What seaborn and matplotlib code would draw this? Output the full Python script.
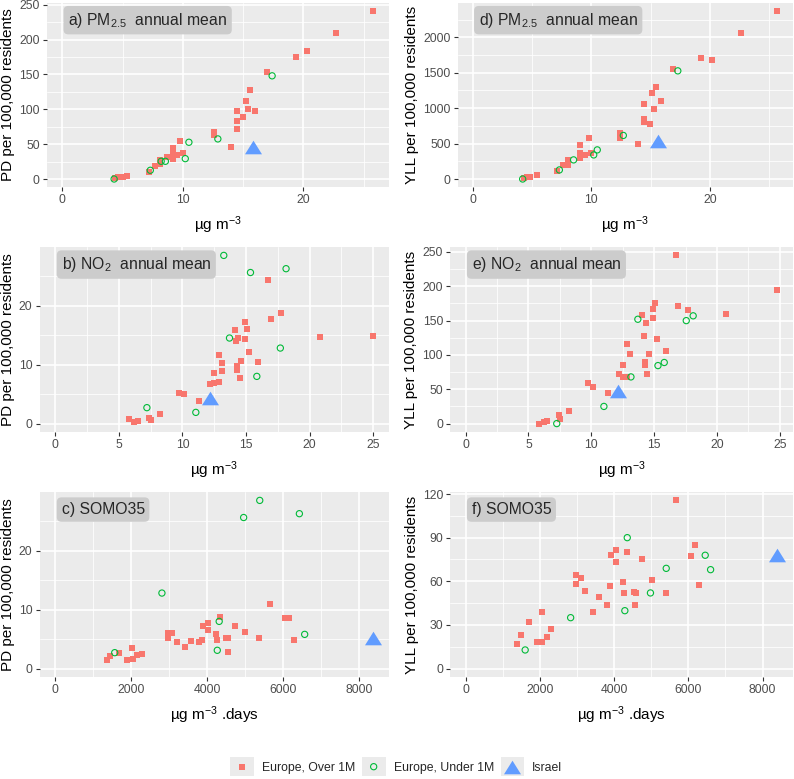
import matplotlib
matplotlib.use("Agg")
import matplotlib.pyplot as plt
import seaborn as sns
from matplotlib.ticker import MultipleLocator
from matplotlib.markers import MarkerStyle
from matplotlib.transforms import Affine2D
from matplotlib.patches import Rectangle
from matplotlib.collections import PathCollection
from matplotlib.legend_handler import HandlerPathCollection

# ---- data ----
group_labels = ["Europe, Over 1M", "Europe, Under 1M", "Israel"]

# a) PM2.5 vs PD
a_over_x = [25.8, 22.7, 20.3, 19.4, 17.0, 15.6, 15.2, 15.4, 16.0, 14.5, 14.5, 14.5, 15.0, 12.55, 12.55,
            14.0, 9.8, 10.0, 9.15, 9.15, 9.15, 9.5, 8.7, 8.1, 8.1, 7.7, 7.2, 5.4, 5.0, 4.6, 4.4]
a_over_y = [241, 209, 184, 175, 154, 127, 112, 101, 97, 98, 83, 72, 89, 67, 63,
            46, 54, 38, 44, 38, 29, 35, 31, 27, 21, 18, 10, 5, 3.4, 2.4, 1.0]
a_under_x = [17.4, 12.9, 10.5, 10.2, 8.55, 8.2, 7.3, 4.3]
a_under_y = [148, 57.5, 52.7, 29.2, 25.4, 25.4, 12.5, 0]
a_israel = [15.8, 46.5]

# d) PM2.5 vs YLL
d_over_x = [25.7, 22.6, 19.3, 20.2, 16.9, 15.5, 15.1, 15.9, 15.3, 14.45, 14.45, 14.45, 14.95, 12.45, 12.45,
            13.95, 9.8, 9.05, 9.05, 9.05, 10.0, 9.45, 8.05, 8.05, 7.6, 7.1, 5.4, 4.8, 4.55, 4.3]
d_over_y = [2372, 2066, 1707, 1674, 1560, 1300, 1215, 1102, 988, 1054, 846, 808, 775, 648, 577,
            496, 582, 478, 364, 293, 364, 340, 270, 199, 199, 118, 57, 33, 24, 9]
d_under_x = [17.3, 12.7, 10.5, 10.2, 8.5, 7.3, 4.2]
d_under_y = [1527, 615, 411, 340, 270, 128, 0]
d_israel = [15.6, 530]

# b) NO2 vs PD
b_over_x = [16.75, 17.75, 16.95, 14.9, 14.1, 15.1, 14.4, 14.2, 14.95, 20.85, 25.0, 15.2, 12.85, 13.1, 13.1,
            15.95, 14.6, 14.3, 14.3, 14.5, 12.5, 12.85, 12.5, 12.2, 9.7, 10.1, 11.3, 8.2, 7.4, 7.55,
            5.8, 6.2, 6.5]
b_over_y = [24.4, 18.75, 17.7, 17.3, 15.9, 16.0, 14.5, 14.0, 14.3, 14.7, 14.8, 12.1, 11.6, 10.3, 8.9,
            10.4, 10.6, 9.7, 9.1, 7.7, 8.6, 7.1, 6.8, 6.7, 5.2, 5.0, 3.8, 1.7, 1.0, 0.6,
            0.7, 0.2, 0.4]
b_under_x = [13.25, 15.35, 18.15, 13.7, 17.7, 15.85, 7.2, 11.05]
b_under_y = [28.5, 25.6, 26.25, 14.5, 12.8, 8.0, 2.7, 1.9]
b_israel = [12.2, 4.4]

# e) NO2 vs YLL
e_over_x = [16.7, 24.8, 15.05, 16.9, 17.7, 14.9, 20.7, 14.05, 14.9, 14.35, 14.15, 15.2, 12.8, 13.1, 14.6,
            15.9, 14.3, 14.3, 12.5, 14.45, 12.2, 12.5, 12.8, 9.7, 10.1, 11.3, 8.2, 7.4, 7.5, 5.85,
            6.2, 6.5]
e_over_y = [245, 195, 176, 171, 165, 167, 160, 158, 154, 147, 128, 123, 116, 101, 102,
            106, 89, 85, 85, 72, 72, 68, 68, 59, 54, 45, 18, 12, 7, 0,
            2, 4]
e_under_x = [13.7, 17.55, 18.1, 13.15, 15.3, 15.8, 11.0, 7.25]
e_under_y = [152, 150, 157, 68, 84.5, 89, 25, 0]
e_israel = [12.15, 48]

# c) SOMO35 vs PD
c_over_x = [5670, 6050, 6160, 6285, 4330, 3900, 4030, 4030, 4745, 5000, 5370, 4225, 4250, 4505, 4560,
            4540, 2960, 2960, 3080, 3205, 3415, 3575, 3785, 3855, 2025, 2040, 1890, 2150, 2290, 1690,
            1450, 1355]
c_over_y = [10.9, 8.5, 8.5, 4.9, 8.7, 7.3, 7.7, 6.5, 7.3, 6.2, 5.2, 5.85, 4.8, 5.2, 5.2,
            2.8, 6.0, 5.1, 6.1, 4.5, 3.7, 4.7, 4.5, 4.8, 3.5, 1.7, 1.4, 2.3, 2.4, 2.6,
            2.2, 1.4]
c_under_x = [5390, 4965, 6435, 2810, 6575, 4320, 4270, 1565]
c_under_y = [28.5, 25.6, 26.25, 12.8, 5.8, 8.0, 3.1, 2.7]
c_israel = [8380, 5.2]

# f) SOMO35 vs YLL
f_over_x = [5680, 6185, 6070, 6300, 4065, 4360, 3915, 4055, 4760, 5020, 5395, 4230, 4270, 4540, 4595,
            4570, 2980, 2980, 3115, 3220, 3440, 3600, 3880, 3805, 2055, 1715, 1490, 1380, 1930, 2055,
            2200, 2305]
f_over_y = [115.6, 85, 77.4, 57.2, 81.3, 80.1, 78, 73.3, 75.1, 61.1, 52.2, 59.3, 52.2, 52.9, 52.2,
            44, 64.1, 58.2, 62.1, 53.1, 39.2, 49, 57, 44, 39.2, 32.1, 23.1, 17, 18.1, 18.1,
            22, 27]
f_under_x = [4355, 6455, 6600, 5405, 4980, 4290, 2830, 1605]
f_under_y = [90, 77.9, 68, 68.9, 52, 39.8, 35, 12.8]
f_israel = [8400, 78.3]

# ---- style ----
sns.set_theme(style="darkgrid", rc={
    "axes.facecolor": "#EBEBEB",
    "grid.color": "white",
    "axes.edgecolor": "none",
})
plt.rcParams["font.family"] = ["Liberation Sans", "DejaVu Sans"]
plt.rcParams["mathtext.fontset"] = "custom"
plt.rcParams["mathtext.rm"] = "Liberation Sans"
plt.rcParams["mathtext.it"] = "Liberation Sans:italic"
plt.rcParams["mathtext.default"] = "regular"

RED = "#F8766D"
GREEN = "#00BA38"
BLUE = "#619CFF"
TRI = MarkerStyle("^", transform=Affine2D().scale(1.0, 0.8))

W, H = 794, 779
fig = plt.figure(figsize=(W / 100, H / 100), dpi=100)


def rect(l, r, t, b):
    return [l / W, 1 - b / H, (r - l) / W, (b - t) / H]


def limits(*vals):
    allv = [v for lst in vals for v in lst] + [0]
    lo, hi = min(allv), max(allv)
    pad = 0.05 * (hi - lo)
    return lo - pad, hi + pad


def draw_panel(ax, ox, oy, ux, uy, isr, tag, xlabel, ylabel, xstep, ystep):
    sns.scatterplot(x=ox, y=oy, ax=ax, marker="s", s=24, color=RED,
                    linewidth=0, label=group_labels[0], zorder=3)
    sns.scatterplot(x=ux, y=uy, ax=ax, marker="o", s=20, facecolor="none",
                    edgecolor=GREEN, linewidth=0.8, label=group_labels[1], zorder=3)
    sns.scatterplot(x=[isr[0]], y=[isr[1]], ax=ax, marker=TRI, s=150, color=BLUE,
                    linewidth=0, label=group_labels[2], zorder=4)
    ax.set_xlim(*limits(ox, ux, [isr[0]]))
    ax.set_ylim(*limits(oy, uy, [isr[1]]))
    ax.xaxis.set_major_locator(MultipleLocator(xstep))
    ax.xaxis.set_minor_locator(MultipleLocator(xstep / 2))
    ax.yaxis.set_major_locator(MultipleLocator(ystep))
    ax.yaxis.set_minor_locator(MultipleLocator(ystep / 2))
    ax.grid(which="major", color="white", linewidth=1.2)
    ax.grid(which="minor", color="white", linewidth=0.55)
    ax.set_axisbelow(True)
    ax.tick_params(which="major", bottom=True, left=True, length=3, width=0.8,
                   color="#333333", labelsize=8.8, labelcolor="#4D4D4D", pad=2)
    ax.tick_params(which="minor", length=0)
    for sp in ax.spines.values():
        sp.set_visible(False)
    ax.set_xlabel(xlabel, fontsize=11, color="black", labelpad=6)
    ax.set_ylabel(ylabel, fontsize=11, color="black", labelpad=3)
    ax.text(0.063, 0.905, tag, transform=ax.transAxes, fontsize=11.3, va="center", ha="left",
            zorder=5, bbox=dict(boxstyle="round,pad=0.3,rounding_size=0.3",
                                facecolor="#CCCCCC", edgecolor="none"))
    leg = ax.get_legend()
    if leg is not None:
        leg.remove()


conc = "µg m$^{-3}$"
somo = "µg m$^{-3}$ .days"
pd_lab = "PD per 100,000 residents"
yll_lab = "YLL per 100,000 residents"

ax_a = fig.add_axes(rect(46.7, 389, 2.6, 187.4))
draw_panel(ax_a, a_over_x, a_over_y, a_under_x, a_under_y, a_israel,
           "a) PM$_{2.5}$  annual mean", conc, pd_lab, 10, 50)

ax_d = fig.add_axes(rect(457.7, 792.5, 2.6, 187.4))
draw_panel(ax_d, d_over_x, d_over_y, d_under_x, d_under_y, d_israel,
           "d) PM$_{2.5}$  annual mean", conc, yll_lab, 10, 500)

ax_b = fig.add_axes(rect(39.5, 389, 247, 432))
draw_panel(ax_b, b_over_x, b_over_y, b_under_x, b_under_y, b_israel,
           "b) NO$_2$  annual mean", conc, pd_lab, 5, 10)

ax_e = fig.add_axes(rect(450, 793, 247, 432))
draw_panel(ax_e, e_over_x, e_over_y, e_under_x, e_under_y, e_israel,
           "e) NO$_2$  annual mean", conc, yll_lab, 5, 50)

ax_c = fig.add_axes(rect(39.5, 389, 492, 677))
draw_panel(ax_c, c_over_x, c_over_y, c_under_x, c_under_y, c_israel,
           "c) SOMO35", somo, pd_lab, 2000, 10)

ax_f = fig.add_axes(rect(450, 793, 492, 677))
draw_panel(ax_f, f_over_x, f_over_y, f_under_x, f_under_y, f_israel,
           "f) SOMO35", somo, yll_lab, 2000, 30)


# legend keys with the grey ggplot-like background
class KeyHandler(HandlerPathCollection):
    def get_ydata(self, legend, xdescent, ydescent, width, height, fontsize):
        return [height / 2 - ydescent]

    def create_artists(self, legend, orig_handle, xdescent, ydescent, width, height, fontsize, trans):
        arts = super().create_artists(legend, orig_handle, xdescent, ydescent,
                                      width, height, fontsize, trans)
        bg = Rectangle((-xdescent, -ydescent), width, height,
                       facecolor="#EBEBEB", edgecolor="none", transform=trans)
        return [bg] + arts


handles, labels = ax_a.get_legend_handles_labels()
fig.legend(handles, labels, loc="center", bbox_to_anchor=(0.499, 0.0158), ncol=3,
           frameon=False, fontsize=8.8, handlelength=1.95, handleheight=1.95,
           handletextpad=0.65, columnspacing=0.55, scatterpoints=1,
           handler_map={PathCollection: KeyHandler()})

fig.savefig("out.png", dpi=100)
